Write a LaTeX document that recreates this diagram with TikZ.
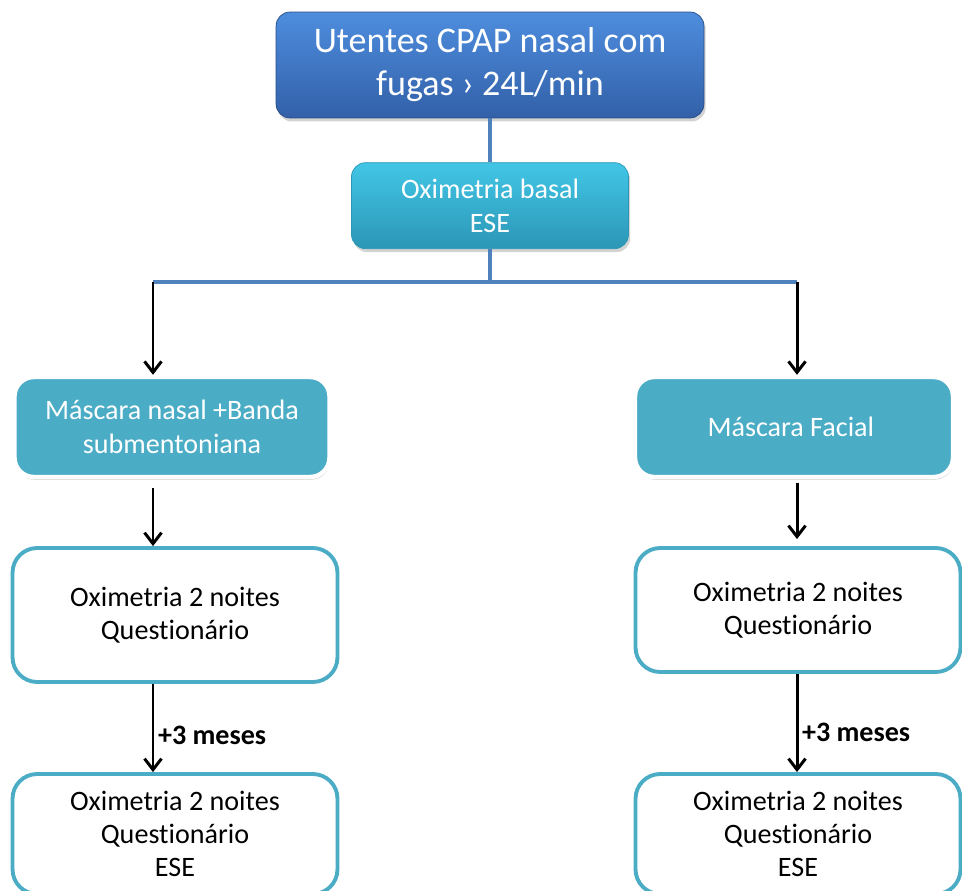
\documentclass[tikz,border=0pt]{standalone}
\usepackage{fontspec}
\setmainfont{Carlito}[RawFeature={-liga;-clig;-calt;-dlig}]
\usepackage{tikz}
\usetikzlibrary{
    arrows.meta,
    positioning,
    shadows,
    calc
}
\definecolor{cpaplight}{RGB}{78,141,222}
\definecolor{cpapdark}{RGB}{50,96,168}
\definecolor{basallight}{RGB}{66,198,230}
\definecolor{basaldark}{RGB}{44,150,182}
\definecolor{maskteal}{RGB}{75,172,198}
\definecolor{linkblue}{RGB}{79,129,189}

\begin{document}
\begin{tikzpicture}[
        x=0.02cm, y=-0.02cm,
        boxfont/.style={
            font=\fontsize{16}{19}\selectfont
        },
        topbox/.style={
            rounded corners=8pt,
            top color=cpaplight,
            bottom color=cpapdark,
            draw=cpapdark!80!black,
            text=white,
            align=center,
            minimum width=8.56cm,
            minimum height=2.12cm,
            font=\fontsize{20.5}{24.5}\selectfont,
            drop shadow={opacity=0.35, shadow xshift=1pt, shadow yshift=-2pt}
        },
        basalbox/.style={
            boxfont,
            rounded corners=8pt,
            top color=basallight,
            bottom color=basaldark,
            draw=basaldark,
            text=white,
            align=center,
            minimum width=5.54cm,
            minimum height=1.72cm,
            drop shadow={opacity=0.35, shadow xshift=1pt, shadow yshift=-2pt}
        },
        maskbox/.style={
            boxfont,
            rounded corners=11pt,
            fill=maskteal,
            draw=white,
            line width=2.5pt,
            text=white,
            align=center,
            minimum width=6.3cm,
            minimum height=2.0cm,
            drop shadow={opacity=0.4, shadow xshift=0.5pt, shadow yshift=-1.5pt}
        },
        oxibox/.style={
            boxfont,
            rounded corners=14pt,
            fill=white,
            draw=maskteal,
            line width=2.2pt,
            align=center,
            minimum width=6.5cm,
            minimum height=2.68cm
        },
        link/.style={
            draw=linkblue,
            line width=2pt
        },
        arrow/.style={
            -{Straight Barb[length=2.2mm, width=3.4mm]},
            line width=1.7pt,
            draw=black
        }
    ]

    \useasboundingbox (0,0) rectangle (962,891);
    \clip (0,0) rectangle (962,891);

    \node[topbox] (utentes) at (490,65) {
        Utentes CPAP nasal com\\fugas › 24L/min
    };

    \node[basalbox, below=0.88cm of utentes] (basal) {
        Oximetria basal\\ESE
    };

    \coordinate (splitL) at (153,282);
    \coordinate (splitR) at (797,282);

    \node[maskbox] (maskL) at (172,427) {
        Máscara nasal +Banda\\submentoniana
    };
    \node[maskbox, minimum width=6.36cm] (maskR) at (794,427) {
        Máscara Facial
    };

    \node[oxibox] (oxiL) at (175,615) {
        Oximetria 2 noites\\Questionário
    };
    \node[oxibox, minimum height=2.48cm] (oxiR) at (798,610) {
        Oximetria 2 noites\\Questionário
    };

    \node[oxibox, minimum height=2.4cm] (finL) at (175,834) {
        Oximetria 2 noites\\Questionário\\ESE
    };
    \node[oxibox, minimum height=2.4cm] (finR) at (798,834) {
        Oximetria 2 noites\\Questionário\\ESE
    };

    \draw[link] (utentes.south) -- (basal.north);
    \draw[link] (basal.south) -- (basal.south |- splitL);
    \draw[link] (splitL) -- (splitR);

    \draw[arrow] (splitL) -- (splitL |- maskL.north);
    \draw[arrow] (splitR) -- (splitR |- maskR.north);

    \draw[arrow] ([yshift=-5pt]splitL |- maskL.south) -- (splitL |- oxiL.north);
    \draw[arrow] ([yshift=-2pt]splitR |- maskR.south) -- ([yshift=4pt]splitR |- oxiR.north);

    \draw[arrow] (splitL |- oxiL.south) -- (splitL |- finL.north)
        node[pos=0.58, right, inner sep=2pt, font=\fontsize{16}{19}\selectfont\bfseries] {+3 meses};
    \draw[arrow] (splitR |- oxiR.south) -- (splitR |- finR.north)
        node[pos=0.6, right, inner sep=2pt, font=\fontsize{16}{19}\selectfont\bfseries] {+3 meses};

\end{tikzpicture}
\end{document}
